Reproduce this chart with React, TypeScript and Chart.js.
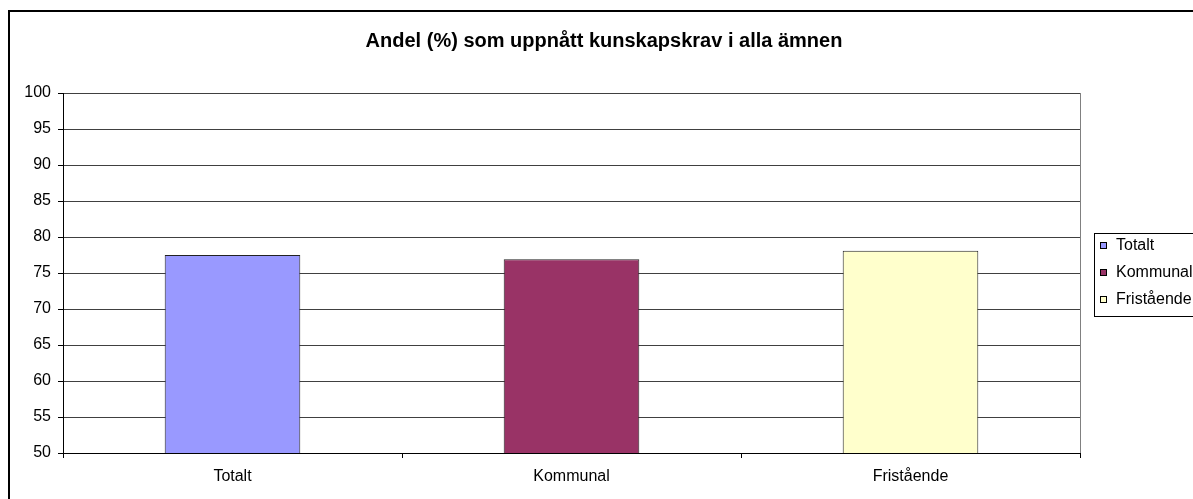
import React, { useEffect, useRef } from 'react';
import { Chart, registerables } from 'chart.js';

Chart.register(...registerables);

const chartTitle = 'Andel (%) som uppnått kunskapskrav i alla ämnen';
const categories = ['Totalt', 'Kommunal', 'Fristående'];
const values = [77.5, 76.9, 78.1];
const barColors = ['#9999FF', '#993366', '#FFFFCC'];
const yMin = 50;
const yMax = 100;
const yStep = 5;

const FONT = "'Liberation Sans', Arial, sans-serif";
const CANVAS_W = 1208;
const CANVAS_H = 499;

const frameAndLegend = {
  id: 'frameAndLegend',
  afterDraw(chart: any) {
    const ctx = chart.ctx as CanvasRenderingContext2D;
    const area = chart.chartArea;
    ctx.save();
    // title (centred on the whole chart object)
    ctx.fillStyle = '#000';
    ctx.font = `bold 20px ${FONT}`;
    ctx.textAlign = 'center';
    ctx.textBaseline = 'alphabetic';
    ctx.fillText(chartTitle, 604, 47);

    // right plot border (grey)
    ctx.strokeStyle = '#808080';
    ctx.lineWidth = 1;
    ctx.beginPath();
    ctx.moveTo(Math.round(area.right) + 0.5, area.top);
    ctx.lineTo(Math.round(area.right) + 0.5, area.bottom);
    ctx.stroke();

    // legend box
    const lx = 1094;
    const ly = 233;
    const lw = 200;
    const lh = 83;
    ctx.fillStyle = '#ffffff';
    ctx.fillRect(lx, ly, lw, lh);
    ctx.strokeStyle = '#000000';
    ctx.strokeRect(lx + 0.5, ly + 0.5, lw, lh);
    const labels = chart.data.labels as string[];
    const colors = chart.data.datasets[0].backgroundColor as string[];
    ctx.font = `16px ${FONT}`;
    ctx.textBaseline = 'middle';
    ctx.textAlign = 'left';
    labels.forEach((l, i) => {
      const cy = 245 + i * 27;
      ctx.fillStyle = colors[i];
      ctx.fillRect(1100, Math.round(cy - 3), 7, 7);
      ctx.strokeStyle = '#000';
      ctx.strokeRect(1100.5, Math.round(cy - 3) + 0.5, 6, 6);
      ctx.fillStyle = '#000';
      ctx.fillText(l, 1116, cy + 1);
    });
    ctx.restore();
  },
};

export default function App() {
  const ref = useRef<HTMLCanvasElement | null>(null);

  useEffect(() => {
    if (!ref.current) return;
    const chart = new Chart(ref.current, {
      type: 'bar',
      data: {
        labels: categories,
        datasets: [
          {
            label: chartTitle,
            data: values,
            backgroundColor: barColors,
            borderColor: '#222222',
            borderWidth: 1,
            barPercentage: 0.4,
            categoryPercentage: 1,
          },
        ],
      },
      options: {
        responsive: false,
        animation: false,
        devicePixelRatio: 1,
        layout: { padding: { left: 0, right: CANVAS_W - 1080, top: 93, bottom: 0 } },
        plugins: {
          legend: { display: false },
          tooltip: { enabled: false },
          title: { display: false },
        },
        scales: {
          x: {
            offset: true,
            grid: {
              offset: true,
              drawOnChartArea: false,
              drawTicks: true,
              tickLength: 5,
              color: '#000',
            },
            border: { display: true, color: '#000', width: 1 },
            ticks: {
              color: '#000',
              font: { family: FONT, size: 16 },
              padding: 9,
              maxRotation: 0,
            },
            afterFit: (s: any) => {
              s.height = CANVAS_H - 453;
            },
          },
          y: {
            min: yMin,
            max: yMax,
            grid: {
              color: '#404040',
              drawTicks: true,
              tickLength: 5,
              tickColor: '#000',
            },
            border: { display: true, color: '#000', width: 1 },
            ticks: {
              stepSize: yStep,
              color: '#000',
              font: { family: FONT, size: 16 },
              padding: 7,
            },
            afterFit: (s: any) => {
              s.width = 63;
            },
          },
        },
      },
      plugins: [frameAndLegend],
    });
    return () => chart.destroy();
  }, []);

  return (
    <div
      style={{
        position: 'fixed',
        left: 0,
        top: 0,
        width: 1193,
        height: 499,
        overflow: 'hidden',
        background: '#fff',
      }}
    >
      <div
        style={{
          position: 'absolute',
          left: 8,
          top: 10,
          width: 1300,
          height: 600,
          border: '2px solid #000',
          boxSizing: 'border-box',
        }}
      />
      <canvas
        ref={ref}
        width={CANVAS_W}
        height={CANVAS_H}
        style={{ position: 'absolute', left: 0, top: 0, width: CANVAS_W, height: CANVAS_H }}
      />
    </div>
  );
}
